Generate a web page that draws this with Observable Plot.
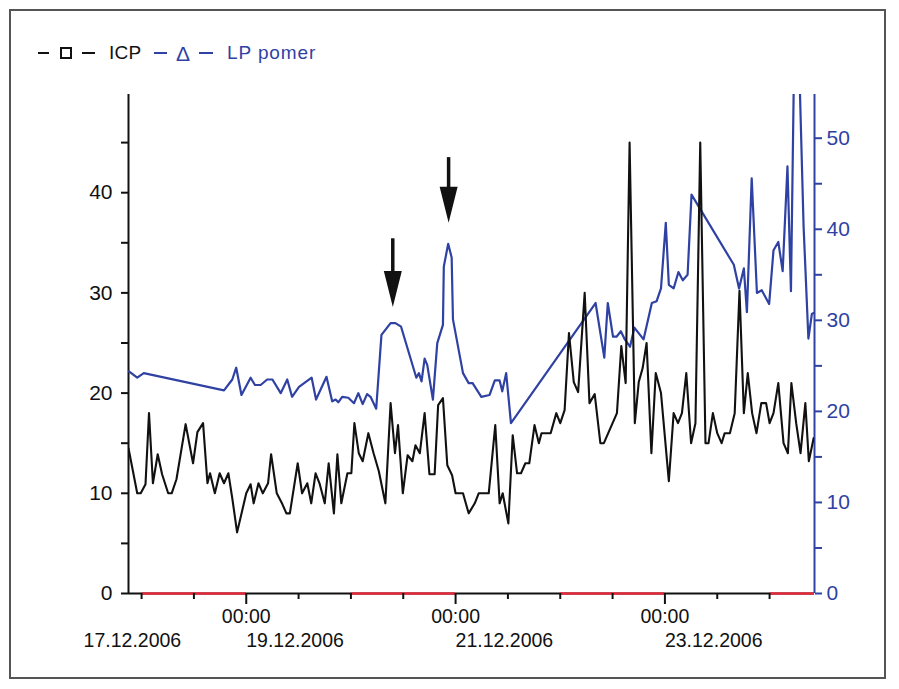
<!DOCTYPE html>
<html>
<head>
<meta charset="utf-8">
<script src="https://cdn.jsdelivr.net/npm/d3@7"></script>
<script src="https://cdn.jsdelivr.net/npm/@observablehq/plot@0.6"></script>
<style>
  body { margin: 0; background: #fff; font-family: "Liberation Sans", Arial, sans-serif; }
  #wrap { position: relative; width: 899px; height: 689px; overflow: hidden; background: #fff; }
  #frame { position: absolute; left: 9px; top: 9px; width: 877px; height: 670px; border: 2px solid #555; box-sizing: border-box; pointer-events: none; }
  #legend { position: relative; height: 80px; font-size: 19px; line-height: 19px; }
  #legend .ln { position: absolute; top: 52px; height: 2px; }
  #legend .box { position: absolute; left: 60px; top: 47px; width: 12px; height: 12px; border: 2px solid #111; box-sizing: border-box; }
  #legend .tx { position: absolute; top: 43px; white-space: nowrap; }
  #chart { position: relative; }
</style>
</head>
<body>
<div id="wrap">
  <div id="legend">
    <span class="ln" style="left:38px;width:11px;background:#111"></span>
    <span class="box"></span>
    <span class="ln" style="left:82px;width:13px;background:#111"></span>
    <span class="tx" style="left:109px;color:#111;letter-spacing:0.3px">ICP</span>
    <span class="ln" style="left:154px;width:13px;background:#2f42a3"></span>
    <span class="tx" style="left:176px;top:43px;font-size:21px;line-height:21px;color:#2f42a3">Δ</span>
    <span class="ln" style="left:199px;width:14px;background:#2f42a3"></span>
    <span class="tx" style="left:227px;color:#2f42a3;letter-spacing:0.9px">LP pomer</span>
  </div>
  <div id="chart"></div>
  <div id="frame"></div>
</div>
<script>
// ---- data (time = hours since 17.12.2006 00:00) ----
const icpHours = [21.0,23.0,23.8,24.9,25.7,26.6,27.7,28.7,30.1,30.9,32.0,34.1,35.8,36.8,38.1,39.1,39.7,40.8,41.9,42.9,43.9,44.8,45.9,48.0,49.0,49.7,50.8,51.8,53.0,53.7,55.0,56.3,57.2,58.0,59.8,60.8,62.0,62.9,63.9,64.8,66.0,66.9,68.1,68.9,69.8,71.2,72.1,72.8,73.8,74.7,76.0,77.2,78.4,79.9,81.1,82.1,82.8,83.9,85.0,86.1,86.8,87.8,88.9,90.0,91.2,92.0,93.1,94.1,95.2,96.0,97.7,99.0,100.4,101.3,103.6,105.1,106.1,106.8,108.1,109.1,110.1,111.0,112.0,112.9,114.1,115.1,115.7,117.8,119.1,120.0,121.0,122.0,123.1,124.1,125.6,126.7,127.9,129.2,130.0,131.0,132.0,133.0,134.0,135.0,135.9,137.1,138.0,138.9,139.8,140.9,141.9,143.1,144.9,146.0,147.0,147.9,148.9,150.0,151.0,152.1,153.3,154.0,155.0,156.0,157.0,157.7,158.9,160.0,161.1,162.1,163.0,164.0,165.0,166.1,167.2,168.0,168.9,170.0,171.2,172.2,173.0,174.1,175.1,176.2,177.0,178.1];
const icpValues = [14.5,10.0,10.0,10.9,18.0,11.0,13.9,11.9,10.0,10.0,11.4,16.9,13.0,16.1,17.0,11.0,12.0,10.0,12.0,11.0,12.0,9.5,6.1,10.0,10.9,9.0,11.0,10.0,11.0,13.9,10.0,8.9,8.0,8.0,13.0,10.0,11.0,9.0,12.0,11.0,9.0,13.0,8.0,13.9,9.0,12.0,12.0,17.0,14.0,13.2,16.0,14.0,12.2,9.0,19.0,14.0,16.8,10.0,13.8,13.2,14.8,14.0,18.0,11.9,11.9,18.8,19.5,12.8,11.8,10.0,10.0,8.0,9.0,10.0,10.0,16.8,9.0,10.0,7.0,15.8,12.0,12.0,13.0,13.0,16.8,15.0,16.0,16.0,18.0,17.0,18.3,26.0,21.1,20.1,30.0,19.0,19.9,15.0,15.0,16.0,17.0,18.0,24.7,21.0,45.0,17.0,21.1,22.5,25.0,14.0,22.0,20.0,11.2,18.0,17.0,18.0,22.0,15.0,17.0,45.0,15.0,15.0,18.0,16.0,15.0,16.0,16.0,18.0,30.2,18.0,22.0,18.0,16.0,19.0,19.0,17.0,18.0,21.0,15.0,14.0,21.0,17.0,14.0,19.0,13.2,15.5];

const lpHours = [21.1,23.0,24.5,42.9,44.8,45.7,46.9,49.0,50.0,51.3,52.8,54.0,55.9,57.4,58.5,60.1,63.0,64.0,66.4,67.7,68.5,69.1,70.0,71.4,72.7,73.7,74.7,75.7,76.5,77.8,79.0,81.1,82.2,83.5,87.0,87.6,88.2,88.9,89.5,90.8,91.8,93.1,93.3,94.3,95.1,95.4,97.7,99.0,99.9,101.9,103.8,105.0,106.1,106.7,107.6,108.7,128.1,130.1,130.9,132.1,132.9,133.9,134.8,136.0,137.0,139.1,141.0,142.1,143.1,144.2,144.9,146.0,147.1,148.1,149.2,150.1,159.8,161.0,162.1,162.8,163.9,165.1,166.2,167.9,168.9,170.0,171.0,172.1,172.9,174.0,175.8,176.9,177.7,178.1];
const lpValues = [24.4,23.7,24.2,22.3,23.5,24.8,21.8,23.7,22.9,22.9,23.5,23.5,22.0,23.5,21.6,22.7,23.7,21.3,23.8,21.1,21.3,21.0,21.6,21.5,20.9,22.0,20.8,21.9,21.6,20.3,28.4,29.7,29.7,29.3,23.7,24.2,23.3,25.8,25.1,21.3,27.5,29.5,35.9,38.4,36.9,30.1,24.2,23.1,23.1,21.6,21.8,23.4,23.4,22.2,24.2,18.7,31.9,25.9,31.9,28.2,28.2,28.8,27.9,27.1,29.2,27.9,31.9,32.1,33.5,40.7,33.9,33.5,35.3,34.4,35.0,43.8,36.1,33.5,35.7,30.9,45.6,33.0,33.3,31.8,37.7,38.6,35.4,46.9,33.2,72.0,40.3,28.0,30.7,30.8];

// arrows (left-axis units)
const arrowHours = [81.6, 94.4];
const arrowTop   = [35.4, 43.5];
const arrowBase  = [32.0, 40.4];
const arrowTip   = [28.6, 37.0];

// axes
const xStartHour = 21.0, xEndHour = 178.3;
const leftMax = 49.8, rightMax = 54.8;
const leftTicks  = [0,5,10,15,20,25,30,35,40,45];
const rightTicks = [0,5,10,15,20,25,30,35,40,45,50];
const majorTickHours = [48, 96, 144];
const majorTickLabel = "00:00";
const minorTickHours = [24, 36, 60, 72, 84, 108, 120, 132, 156, 168];
const dateLabels = ["17.12.2006", "19.12.2006", "21.12.2006", "23.12.2006"];
const dateLabelHours = [10.7, 48, 96, 144];
const redStartHours = [24, 72, 120, 168];
const redEndHours   = [48, 96, 144, 178.3];

// ---- build ----
const base = Date.UTC(2006, 11, 17);
const t = h => new Date(base + h * 3600000);
const k = leftMax / rightMax;   // right-axis units -> left-axis units
const BLUE = "#2f42a3", BLACK = "#111", RED = "#e5283a";

const icp = icpHours.map((h, i) => ({t: t(h), v: icpValues[i]}));
const lp = lpHours.map((h, i) => ({t: t(h), v: lpValues[i] * k}));
const arrows = arrowHours.map((h, i) => ({t: t(h), top: arrowTop[i], base: arrowBase[i], tip: arrowTip[i]}));
const dates = dateLabels.map((s, i) => ({t: t(dateLabelHours[i]), s}));
const reds = redStartHours.map((s, i) => ({x1: t(s), x2: t(redEndHours[i])}));

const headSymbol = {
  draw(ctx) { ctx.moveTo(0, 0); ctx.lineTo(-9, -36); ctx.lineTo(9, -36); ctx.closePath(); }
};

const chart = Plot.plot({
  width: 899,
  height: 609,
  marginLeft: 128,
  marginRight: 85,
  marginTop: 14,
  marginBottom: 96,
  style: {fontFamily: "'Liberation Sans', Arial, sans-serif", fontSize: "21px", color: BLACK, background: "transparent", overflow: "visible"},
  x: {type: "utc", domain: [t(xStartHour), t(xEndHour)]},
  y: {domain: [0, leftMax]},
  marks: [
    // axis lines
    Plot.ruleY([0], {stroke: BLACK, strokeWidth: 2}),
    Plot.ruleY(reds, {y: () => 0, x1: "x1", x2: "x2", stroke: RED, strokeWidth: 2.6}),
    Plot.ruleX([t(xStartHour)], {y1: 0, y2: leftMax, stroke: BLACK, strokeWidth: 2}),
    Plot.ruleX([t(xEndHour)], {y1: 0, y2: leftMax, stroke: BLUE, strokeWidth: 2}),
    // y axes
    Plot.axisY({anchor: "left", ticks: leftTicks, tickSize: 7, tickPadding: 9, strokeWidth: 2,
      tickFormat: d => (d % 10 === 0 ? String(d) : ""), fontSize: 21, color: BLACK}),
    Plot.axisY({anchor: "right", ticks: rightTicks.map(v => v * k), tickSize: 7, tickPadding: 5, strokeWidth: 2,
      tickFormat: d => { const v = Math.round(d / k); return v % 10 === 0 ? String(v) : ""; }, fontSize: 21, color: BLUE}),
    // x axis ticks
    Plot.axisX({ticks: minorTickHours.map(t), tickSize: 6, strokeWidth: 2, tickFormat: () => "", color: BLACK}),
    Plot.axisX({ticks: majorTickHours.map(t), tickSize: 11, tickPadding: 5, strokeWidth: 2,
      tickFormat: () => majorTickLabel, fontSize: 19.5, color: BLACK}),
    Plot.text(dates, {x: "t", y: () => 0, text: "s", textAnchor: "start", lineAnchor: "top", dy: 40, fontSize: 19.5, fill: BLACK, style: "letter-spacing:0.4px"}),
    // series
    Plot.line(lp, {x: "t", y: "v", stroke: BLUE, strokeWidth: 2.2, clip: true}),
    Plot.line(icp, {x: "t", y: "v", stroke: BLACK, strokeWidth: 2.1, clip: true}),
    // arrows
    Plot.ruleX(arrows, {x: "t", y1: "top", y2: "base", stroke: BLACK, strokeWidth: 3.5}),
    Plot.dot(arrows, {x: "t", y: "tip", symbol: headSymbol, r: 6, fill: BLACK, stroke: "none"})
  ]
});
document.getElementById("chart").appendChild(chart);
</script>
</body>
</html>
